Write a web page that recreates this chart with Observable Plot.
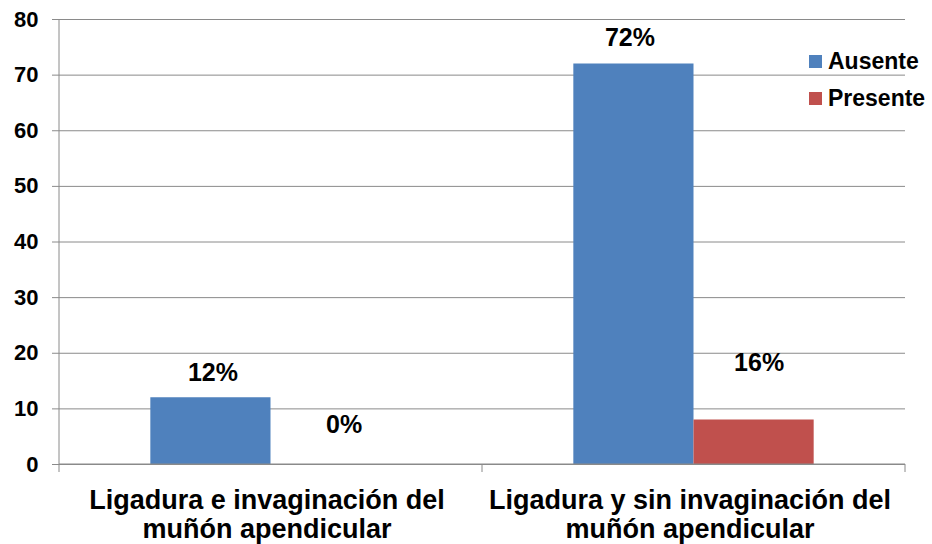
<!DOCTYPE html>
<html>
<head>
<meta charset="utf-8">
<script src="https://cdn.jsdelivr.net/npm/d3@7"></script>
<script src="https://cdn.jsdelivr.net/npm/@observablehq/plot@0.6"></script>
<style>
  html, body { margin: 0; padding: 0; background: #fff; }
  #wrap { position: relative; width: 932px; height: 544px; font-family: "Liberation Sans", Arial, sans-serif; font-weight: bold; }
  .legend { position: absolute; left: 809px; top: 43px; font-size: 23px; line-height: 37px; color: #000; }
  .legend .item { display: flex; align-items: center; white-space: nowrap; }
  .legend .sw { width: 13px; height: 13px; margin-right: 6px; flex: none; }
  svg text { font-weight: bold; }
</style>
</head>
<body>
<div id="wrap"></div>
<script>
// ---- data ----
const categories = ["Ligadura e invaginación del\nmuñón apendicular", "Ligadura y sin invaginación del\nmuñón apendicular"];
const seriesNames = ["Ausente", "Presente"];
const ausente = [12, 72];
const presente = [0, 8];
const ausenteLabels = ["12%", "72%"];
const presenteLabels = ["0%", "16%"];
const yTicks = [0, 10, 20, 30, 40, 50, 60, 70, 80];
const colors = ["#4F81BD", "#C0504D"];

const rows = [];
categories.forEach((c, i) => {
  rows.push({cat: c, series: seriesNames[0], value: ausente[i], label: ausenteLabels[i], key: "a" + i});
  rows.push({cat: c, series: seriesNames[1], value: presente[i], label: presenteLabels[i], key: "p" + i});
});

// label offsets (px) as placed in the reference
const labelShift = {a0: [2, -25], p0: [13, -40], a1: [-4, -26], p1: [5, -57]};
const labelMarks = rows.map(r => Plot.text([r], {
  fx: "cat", x: "series", y: "value", text: "label",
  dx: labelShift[r.key][0], dy: labelShift[r.key][1],
  fontSize: 25, fontWeight: "bold", fill: "#000"
}));

const grid = "#8a8a8a";

const chart = Plot.plot({
  width: 932,
  height: 544,
  marginLeft: 59,
  marginRight: 27,
  marginTop: 19,
  marginBottom: 80,
  style: {fontFamily: "'Liberation Sans', Arial, sans-serif", fontWeight: "bold", color: "#000", background: "transparent"},
  fx: {domain: categories, padding: 0, label: null},
  x: {domain: seriesNames, paddingInner: 0, paddingOuter: 0.76, axis: null, round: false},
  y: {domain: [0, 80], label: null},
  color: {domain: seriesNames, range: colors},
  marks: [
    Plot.gridY(yTicks, {stroke: grid, strokeOpacity: 1}),
    Plot.axisY({ticks: yTicks, tickSize: 7, tickPadding: 14, stroke: grid, fontSize: 22, fontWeight: "bold", fill: "#000", label: null}),
    Plot.axisFx({anchor: "bottom", tickSize: 0, tickPadding: 23, fontSize: 27, fontWeight: "bold", fill: "#000", lineHeight: 1.1, dx: -4, label: null}),
    Plot.barY(rows, {fx: "cat", x: "series", y: "value", fill: "series"}),
    ...labelMarks
  ]
});

// axis line and category boundary ticks, from Plot's scales
const fx = chart.scale("fx");
const ys = chart.scale("y");
const y0 = ys.apply(0), yTop = ys.apply(80);
const left = fx.apply(categories[0]);
const bounds = [left, ...categories.map(c => fx.apply(c) + fx.bandwidth)];
const g = d3.select(chart).append("g").attr("stroke", grid).attr("stroke-width", 1);
g.append("line").attr("x1", left).attr("x2", left).attr("y1", yTop).attr("y2", y0 + 8);
g.append("line").attr("x1", left).attr("x2", bounds[bounds.length - 1]).attr("y1", y0).attr("y2", y0);
bounds.slice(1).forEach(b => g.append("line").attr("x1", b).attr("x2", b).attr("y1", y0).attr("y2", y0 + 8));

const wrap = document.getElementById("wrap");
wrap.appendChild(chart);

// legend
const legend = document.createElement("div");
legend.className = "legend";
seriesNames.forEach((s, i) => {
  const item = document.createElement("div");
  item.className = "item";
  const sw = document.createElement("span");
  sw.className = "sw";
  sw.style.background = colors[i];
  const t = document.createElement("span");
  t.textContent = s;
  item.appendChild(sw);
  item.appendChild(t);
  legend.appendChild(item);
});
wrap.appendChild(legend);
</script>
</body>
</html>
